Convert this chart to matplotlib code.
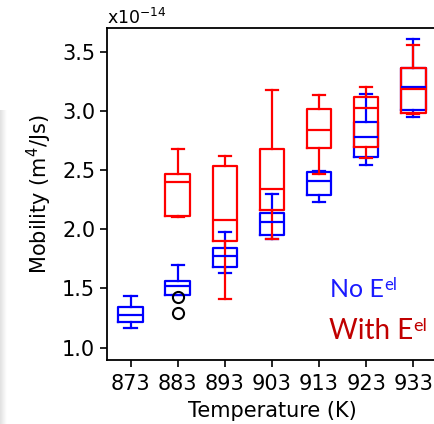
import numpy as np
import matplotlib
matplotlib.use("Agg")
import matplotlib.pyplot as plt

# temperaturer og boksstatistikk (enhet 1e-14 m^4/Js)
temps = [873, 883, 893, 903, 913, 923, 933]

# uten E-felt (blaa)
no_lo = [1.17, 1.445, 1.63, 1.915, 2.23, 2.54, 2.95]
no_q1 = [1.215, 1.445, 1.685, 1.95, 2.29, 2.61, 3.01]
no_med = [1.275, 1.525, 1.775, 2.06, 2.41, 2.78, 3.20]
no_q3 = [1.34, 1.565, 1.84, 2.135, 2.485, 2.91, 3.36]
no_hi = [1.44, 1.70, 1.98, 2.30, 2.49, 3.14, 3.61]
no_fliers = [[], [1.43, 1.29], [], [], [], [], []]

# med E-felt (roed), ingen data ved 873
with_temps = [883, 893, 903, 913, 923, 933]
with_lo = [2.10, 1.41, 1.92, 2.47, 2.60, 2.97]
with_q1 = [2.11, 1.90, 2.165, 2.685, 2.695, 2.98]
with_med = [2.395, 2.075, 2.34, 2.835, 3.02, 3.185]
with_q3 = [2.47, 2.535, 2.675, 3.015, 3.115, 3.365]
with_hi = [2.68, 2.62, 3.18, 3.13, 3.205, 3.56]

blue = "#0000ff"
red = "#ff0000"


def make_stats(lo, q1, med, q3, hi, fl=None):
    out = []
    for i in range(len(lo)):
        out.append(dict(whislo=lo[i], q1=q1[i], med=med[i], q3=q3[i], whishi=hi[i],
                        fliers=(fl[i] if fl else [])))
    return out


fig = plt.figure(figsize=(4.34, 4.24), dpi=100)
ax = fig.add_axes([0.2465, 0.151, 0.76, 0.783])

pos_no = [temps.index(t) + 1 for t in temps]
pos_with = [temps.index(t) + 1 for t in with_temps]

lw = 1.6
ax.bxp(make_stats(no_lo, no_q1, no_med, no_q3, no_hi, no_fliers), positions=pos_no,
       widths=0.52, boxprops=dict(color=blue, lw=lw), whiskerprops=dict(color=blue, lw=lw),
       capprops=dict(color=blue, lw=lw), medianprops=dict(color=blue, lw=lw),
       flierprops=dict(marker='o', markerfacecolor='none', markeredgecolor='black',
                       markersize=8, markeredgewidth=1.5))
ax.bxp(make_stats(with_lo, with_q1, with_med, with_q3, with_hi), positions=pos_with,
       widths=0.52, boxprops=dict(color=red, lw=lw), whiskerprops=dict(color=red, lw=lw),
       capprops=dict(color=red, lw=lw), medianprops=dict(color=red, lw=lw))

ax.set_xlim(0.5, 7.5)
ax.set_ylim(0.896, 3.70)
ax.set_xticks(range(1, 8))
ax.set_xticklabels([str(t) for t in temps])
ax.set_yticks([1.0, 1.5, 2.0, 2.5, 3.0, 3.5])
ax.tick_params(labelsize=15, width=1.2, length=5)
ax.tick_params(axis='x', pad=5)
for s in ax.spines.values():
    s.set_linewidth(1.3)
ax.spines['right'].set_visible(False)

ax.set_xlabel("Temperature (K)", fontsize=15, labelpad=5)
ax.set_ylabel("Mobility (m$^4$/Js)", fontsize=15, labelpad=6)
ax.text(0.0, 0.999, "x10$^{-14}$", transform=ax.transAxes, fontsize=12.5, va='bottom', ha='left')

# tekst-etiketter
t1 = ax.text(0.677, 0.213, "No E", transform=ax.transAxes, color="#1a1aff",
             fontsize=18, family="Lato", ha='left', va='center')
ax.annotate("el", xy=(1.0, 1.02), xycoords=t1, color="#1a1aff", fontsize=12,
            family="Lato", ha='left', va='top')
t2 = ax.text(0.672, 0.087, "With E", transform=ax.transAxes, color="#c00000",
             fontsize=20, family="Lato", ha='left', va='center')
ax.annotate("el", xy=(1.0, 1.02), xycoords=t2, color="#c00000", fontsize=13,
            family="Lato", ha='left', va='top')

# svak skygge langs venstre kant
sh = fig.add_axes([0, 0, 0.014, 0.74])
sh.imshow(np.linspace(0.88, 1.0, 20)[None, :], cmap='gray', vmin=0, vmax=1,
          aspect='auto', extent=[0, 1, 0, 1])
sh.axis('off')

fig.savefig("out.png", dpi=100)
